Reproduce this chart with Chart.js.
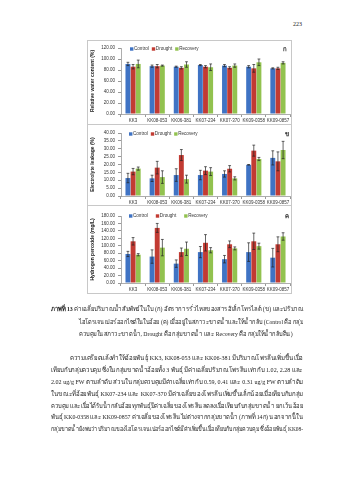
<!DOCTYPE html>
<html>
<head>
<meta charset="utf-8">
<script src="https://cdn.jsdelivr.net/npm/chart.js@4.4.1/dist/chart.umd.min.js"></script>
<style>
  body { margin:0; background:#fff; }
  #page { position:relative; width:339px; height:480px; overflow:hidden; font-family:"Liberation Serif", "Noto Sans", sans-serif; color:#222; }
  .box { position:absolute; left:87px; width:205px; border:1px solid #c8c8c8; box-sizing:border-box; }
  .box canvas { position:absolute; left:0; top:0; }
  .ln { position:absolute; white-space:nowrap; font-size:6.6px; line-height:8px; text-align-last:justify; transform-origin:0 50%; }
  #pno { position:absolute; left:293px; top:21px; font-size:6px; }
</style>
</head>
<body>
<div id="page">
  <div id="pno">223</div>
  <div class="box" style="top:40px;height:85px"><canvas id="rwc" width="205" height="85"></canvas></div>
  <div class="box" style="top:124px;height:82px"><canvas id="el" width="205" height="82"></canvas></div>
  <div class="box" style="top:205px;height:89px"><canvas id="hp" width="205" height="89"></canvas></div>

  <div class="ln" data-w="252" style="left:51px;top:305px"><b>ภาพที่ 13</b> ค่าเฉลี่ยปริมาณน้ำสัมพัทธ์ในใบ (ก) อัตราการรั่วไหลของสารอิเล็กโทรไลต์ (ข) และปริมาณ</div>
  <div class="ln" data-w="224" style="left:79px;top:318px">ไฮโดรเจนเปอร์ออกไซด์ในใบอ้อย (ค) เมื่ออยู่ในสภาวะขาดน้ำและให้น้ำกลับ (Control คือ กลุ่ม</div>
  <div class="ln" data-w="214" style="left:79px;top:330px;text-align-last:left">ควบคุมในสภาวะขาดน้ำ, Drought คือ กลุ่มขาดน้ำ และ Recovery คือ กลุ่มให้น้ำกลับคืน)</div>

  <div class="ln" data-w="233" style="left:70px;top:354px">ความเครียดแล้งทำให้อ้อยพันธุ์ KK3, KK08-053 และ KK06-381 มีปริมาณโพรลีนเพิ่มขึ้นเมื่อ</div>
  <div class="ln" data-w="252" style="left:51px;top:366px">เทียบกับกลุ่มควบคุม ซึ่งในกลุ่มขาดน้ำอ้อยทั้ง 3 พันธุ์ มีค่าเฉลี่ยปริมาณโพรลีนเท่ากับ 1.02, 2.28 และ</div>
  <div class="ln" data-w="252" style="left:51px;top:378px">2.02 ug/g FW ตามลำดับ ส่วนในกลุ่มควบคุมมีค่าเฉลี่ยเท่ากับ 0.59, 0.41 และ 0.31 ug/g FW ตามลำดับ</div>
  <div class="ln" data-w="252" style="left:51px;top:390px">ในขณะที่อ้อยพันธุ์ KK07-234 และ KK07-370 มีค่าเฉลี่ยของโพรลีนเพิ่มขึ้นเล็กน้อยเมื่อเทียบกับกลุ่ม</div>
  <div class="ln" data-w="252" style="left:51px;top:402px">ควบคุม และเมื่อได้รับน้ำกลับอ้อยทุกพันธุ์มีค่าเฉลี่ยของโพรลีนลดลงเมื่อเทียบกับกลุ่มขาดน้ำ ยกเว้นอ้อย</div>
  <div class="ln" data-w="252" style="left:51px;top:413px">พันธุ์ KK0-0358 และ KK09-0857 ค่าเฉลี่ยของโพรลีนไม่ต่างจากกลุ่มขาดน้ำ (ภาพที่ 14ก) นอกจากนี้ใน</div>
  <div class="ln" data-w="252" style="left:51px;top:425px">กลุ่มขาดน้ำยังพบว่าปริมาณของไฮโดรเจนเปอร์ออกไซด์มีค่าเพิ่มขึ้นเมื่อเทียบกับกลุ่มควบคุม ซึ่งอ้อยพันธุ์ KK08-</div>
</div>

<script>
const groups = ['KK3', 'KK08-053', 'KK06-381', 'KK07-234', 'KK07-370', 'KK09-0358', 'KK09-0857'];
const seriesNames = ['Control', 'Drought', 'Recovery'];
const seriesColors = ['#3f73c4', '#c23b33', '#92c24f'];

// relative water content (%)
const rwcControl  = [91, 87, 86, 89, 88, 86, 83];
const rwcDrought  = [86, 87, 84, 86, 84, 83, 83];
const rwcRecovery = [91, 88, 90, 85, 88, 94, 93];
const rwcControlSd  = [3, 2, 1, 1, 2, 2, 1];
const rwcDroughtSd  = [4, 3, 2, 2, 2, 7, 2];
const rwcRecoverySd = [7, 1, 5, 6, 3, 6, 2];
const rwcTicks = [0, 20, 40, 60, 80, 100, 120];

// electrolyte leakage (%)
const elControl  = [11.4, 11.2, 13.3, 13.3, 14.0, 19.8, 24.2];
const elDrought  = [15.5, 18.0, 26.0, 16.1, 17.3, 28.8, 22.0];
const elRecovery = [17.4, 12.0, 10.7, 15.5, 11.2, 23.5, 29.2];
const elControlSd  = [3, 2, 4, 3, 2, 0.2, 4.5];
const elDroughtSd  = [2, 4, 3.5, 2.5, 2, 3.5, 6];
const elRecoverySd = [1, 4, 2.5, 2.5, 1, 1, 5.5];
const elTicks = [0, 5, 10, 15, 20, 25, 30, 35, 40];

// hydrogen peroxide (mg/L)
const hpControl  = [78, 71, 52, 83, 64, 83, 68];
const hpDrought  = [112, 148, 83, 108, 104, 112, 104];
const hpRecovery = [76, 95, 92, 88, 93, 99, 125];
const hpControlSd  = [7, 18, 10, 15, 10, 25, 25];
const hpDroughtSd  = [10, 12, 11, 22, 9, 22, 20];
const hpRecoverySd = [3, 22, 18, 7, 4, 8, 10];
const hpTicks = [0, 20, 40, 60, 80, 100, 120, 140, 160, 180];

const tickFont = { family: 'Liberation Sans, Arial', size: 4.5 };

// justify each text line to its width; squeeze it sideways when too long
document.querySelectorAll('.ln').forEach(el => {
  const target = +el.dataset.w;
  const natural = el.scrollWidth;
  if (natural > target) {
    el.style.width = natural + 'px';
    el.style.transform = 'scaleX(' + (target / natural) + ')';
  } else {
    el.style.width = target + 'px';
  }
});

// whiskers drawn over the bars
const errorBars = {
  id: 'errorBars',
  afterDatasetsDraw(chart, args, opts) {
    const ctx = chart.ctx;
    const y = chart.scales.y;
    ctx.save();
    ctx.strokeStyle = '#222';
    ctx.lineWidth = 0.7;
    chart.data.datasets.forEach((ds, i) => {
      const meta = chart.getDatasetMeta(i);
      meta.data.forEach((bar, j) => {
        const v = ds.data[j], e = opts.sd[i][j];
        const top = y.getPixelForValue(v + e), bot = y.getPixelForValue(v - e);
        ctx.beginPath();
        ctx.moveTo(bar.x, top); ctx.lineTo(bar.x, bot);
        ctx.moveTo(bar.x - 1.4, top); ctx.lineTo(bar.x + 1.4, top);
        ctx.moveTo(bar.x - 1.4, bot); ctx.lineTo(bar.x + 1.4, bot);
        ctx.stroke();
      });
    });
    ctx.restore();
  }
};

// legend sits inside the plot, plus the panel letter in the corner
const innerLegend = {
  id: 'innerLegend',
  afterDraw(chart, args, opts) {
    const ctx = chart.ctx;
    ctx.save();
    ctx.font = '4.6px "Liberation Sans", Arial';
    ctx.textBaseline = 'middle';
    let x = opts.x;
    chart.data.datasets.forEach((ds, i) => {
      ctx.fillStyle = ds.backgroundColor;
      ctx.fillRect(x, opts.y - 1.7, 3.4, 3.4);
      x += 4;
      ctx.fillStyle = '#333';
      ctx.fillText(ds.label, x, opts.y);
      x += ctx.measureText(ds.label).width + opts.gap;
    });
    ctx.font = 'bold 6px "Noto Sans", sans-serif';
    ctx.fillStyle = '#222';
    ctx.fillText(opts.mark, opts.markX, opts.y);
    ctx.restore();
  }
};

function makeChart(id, values, sd, ticks, title, pad, legend) {
  return new Chart(document.getElementById(id), {
    type: 'bar',
    data: {
      labels: groups,
      datasets: values.map((v, i) => ({
        label: seriesNames[i],
        data: v,
        backgroundColor: seriesColors[i],
        categoryPercentage: 0.64,
        barPercentage: 0.95
      }))
    },
    options: {
      responsive: false,
      animation: false,
      layout: { padding: { top: pad[0], right: 3, bottom: pad[1], left: 0 } },
      plugins: {
        legend: { display: false },
        tooltip: { enabled: false },
        errorBars: { sd: sd },
        innerLegend: legend
      },
      scales: {
        x: {
          grid: { drawOnChartArea: false, tickLength: 3, color: '#999' },
          border: { color: '#999', width: 0.8 },
          ticks: { font: tickFont, color: '#333', padding: 1, maxRotation: 0, autoSkip: false },
          afterFit(s) { s.height = 10; }
        },
        y: {
          min: ticks[0],
          max: ticks[ticks.length - 1],
          afterBuildTicks(s) { s.ticks = ticks.map(v => ({ value: v })); },
          grid: { drawOnChartArea: false, tickLength: 3, color: '#999' },
          border: { color: '#999', width: 0.8 },
          ticks: { font: tickFont, color: '#333', padding: 3, autoSkip: false, callback: v => v.toFixed(2) },
          title: { display: true, text: title, color: '#222', font: { family: 'Liberation Sans, Arial', size: 5, weight: 'bold' }, padding: { top: 2, bottom: 0 } },
          afterFit(s) { s.width = 33; }
        }
      }
    },
    plugins: [errorBars, innerLegend]
  });
}

makeChart('rwc', [rwcControl, rwcDrought, rwcRecovery], [rwcControlSd, rwcDroughtSd, rwcRecoverySd],
  rwcTicks, 'Relative water content (%)', [7, 2], { x: 42, y: 8, gap: 3, mark: 'ก', markX: 195 });
makeChart('el', [elControl, elDrought, elRecovery], [elControlSd, elDroughtSd, elRecoverySd],
  elTicks, 'Electrolyte leakage (%)', [8, 1], { x: 41, y: 9, gap: 3, mark: 'ข', markX: 197 });
makeChart('hp', [hpControl, hpDrought, hpRecovery], [hpControlSd, hpDroughtSd, hpRecoverySd],
  hpTicks, 'Hydrogen peroxide (mg/L)', [10, 2], { x: 41, y: 10, gap: 8, mark: 'ค', markX: 197 });
</script>
</body>
</html>
